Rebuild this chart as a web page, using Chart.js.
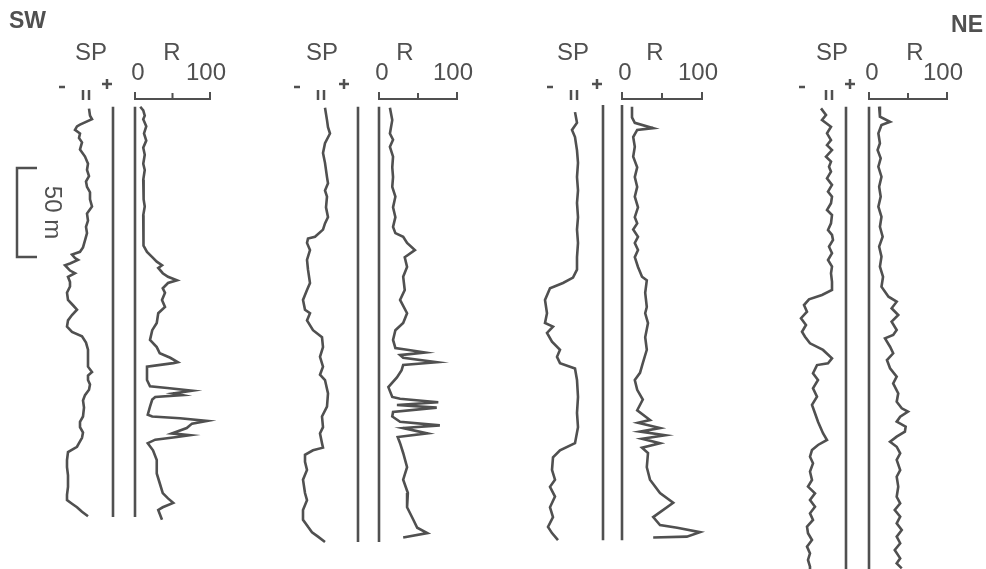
<!DOCTYPE html>
<html>
<head>
<meta charset="utf-8">
<title>SP / R logs SW - NE</title>
<script src="https://cdn.jsdelivr.net/npm/chart.js@4.4.1/dist/chart.umd.min.js"></script>
<style>
  html, body { margin: 0; padding: 0; background: #fff; }
  #wrap { position: relative; width: 986px; height: 569px; overflow: hidden; }
  #wrap canvas { position: absolute; top: 0; }
</style>
</head>
<body>
<div id="wrap">
  <canvas id="well1" width="253" height="569"></canvas>
  <canvas id="well2" width="253" height="569"></canvas>
  <canvas id="well3" width="253" height="569"></canvas>
  <canvas id="well4" width="253" height="569"></canvas>
</div>
<script>
const well1SP = [[2,-24],[6,-23],[8,-21],[11,-33],[12,-36],[14,-38],[16,-33],[18.5,-34],[21,-31],[25,-33],[29,-28],[33,-25],[36.5,-26],[40,-24],[43,-27],[46,-26],[49,-23],[53,-23],[57,-21],[61,-26],[65,-25],[68.5,-27],[72,-26],[76,-28],[80,-30],[82.5,-33],[84,-41],[86,-38],[87,-35],[89,-43],[90,-48],[93,-43],[94.5,-38],[96.5,-45],[99.5,-43],[102,-43],[105.5,-46],[109.5,-45],[112.5,-40],[115,-36],[118,-41],[121,-45],[124.5,-46],[127.5,-41],[130,-31],[133.5,-27],[137.5,-25],[142,-25],[147,-25],[150,-21],[152,-25],[154.5,-25],[157,-23],[160,-24],[163,-28],[166,-30],[170,-29],[175,-30],[178,-33],[181,-33],[184,-30],[187,-31],[190,-34],[192,-36],[195,-45],[199.5,-46],[203.5,-46],[208,-45],[214.5,-45],[219,-46],[222,-46],[224,-41],[226,-36],[228.5,-31],[231,-25]];
const well1R = [[1,7],[3,11],[6,13],[8,11],[12,15],[16,12],[20,15],[24,11],[28,13],[33,11],[36.5,13],[42,11],[48,12],[53,11],[57,13],[62,11],[67.5,12],[73,11],[79,11],[82.5,16],[85.5,23],[88,29],[90,36],[91.5,31],[94.5,37],[96.5,44],[98.5,56],[100,44],[103,37],[105.5,40],[109.5,36],[113.5,40],[117,31],[122.5,29],[126.5,23],[132,20],[136,29],[139.5,33],[142,47],[144.5,57],[145,51],[147,16],[154.5,16],[158,20],[159,43],[160.5,76],[162,51],[163,63],[164,27],[165.5,23],[169.5,20],[174,17],[175,23],[176,60],[177.5,96],[179,76],[181.5,69],[184.5,49],[185.5,73],[186.5,56],[188,27],[190,17],[194,24],[199.5,29],[207,29],[212.5,33],[218,37],[221,44],[223.5,51],[226,37],[227.5,31],[233,36]];

const well2SP = [[1.5,-33],[8.5,-31],[12.5,-30],[16,-28],[21.5,-33],[27,-35],[32.5,-33],[40.5,-31],[44,-30],[48,-33],[51.5,-31],[57.5,-32],[63,-30],[66.5,-33],[70,-35],[74,-43],[75,-50],[77.5,-51],[81.5,-48],[87,-51],[92.5,-50],[100,-48],[104,-51],[109.5,-55],[115,-53],[117,-48],[121,-51],[126.5,-45],[130.5,-36],[136,-35],[141.5,-38],[147,-35],[151.5,-38],[154.5,-33],[162,-30],[169.5,-31],[175,-36],[181,-35],[184.5,-38],[190,-36],[192.5,-35],[194,-45],[196.5,-53],[200.5,-53],[205,-51],[210.5,-55],[218,-53],[222,-51],[227.5,-55],[233,-55],[237,-50],[240,-46],[242.5,-40],[245.5,-33]];
const well2R = [[1.5,14],[8.5,17],[16,14],[19.5,18],[23.5,14],[29,18],[35,17],[40.5,18],[46,17],[51.5,21],[57.5,18],[63,21],[68.5,18],[72,21],[74,31],[77.5,36],[81.5,46],[85.5,33],[91,36],[96.5,31],[104,33],[109.5,27],[117,36],[122.5,31],[126.5,21],[132,18],[136.5,21],[137.5,36],[139,59],[140.5,27],[142,31],[144.5,74],[146,31],[149,29],[153,23],[158.5,12],[164,17],[165,27],[167,76],[168.5,23],[170,74],[172.5,18],[175,17],[178,27],[180,78],[181.5,31],[184.5,62],[186.5,24],[190,27],[195.5,31],[203.5,36],[210.5,31],[218,37],[226,36],[233,44],[237.5,49],[240.5,62],[243,31]];

const well3SP = [[4,-28],[10,-26],[14,-31],[18,-28],[25.5,-26],[32.5,-25],[40.5,-26],[48,-25],[55,-26],[63,-25],[70,-26],[77.5,-25],[85.5,-26],[92.5,-26],[97,-30],[100,-40],[103,-53],[109.5,-58],[117,-56],[122.5,-58],[124.5,-50],[128,-56],[133,-51],[137.5,-43],[141.5,-46],[145,-43],[148,-28],[154.5,-26],[164,-25],[173,-26],[181,-25],[190,-28],[194,-43],[198,-50],[205,-51],[210.5,-48],[214.5,-53],[220,-48],[226,-53],[231.5,-50],[237,-55],[240.5,-51],[244.5,-45]];
const well3R = [[1,12.5],[7,12.5],[10,16],[13,39],[14,19],[18,14],[23.5,16],[29,14],[35,19],[40.5,16],[46,19],[51.5,16],[57.5,20],[63,16],[66.5,19],[70,14],[74,20],[77.5,16],[81.5,20],[85.5,16],[91,20],[96.5,25],[98.5,31],[105.5,29],[113.5,31],[117,29],[122.5,32.5],[130.5,29],[137.5,31],[145,26],[150.5,22.5],[154.5,16],[160,19],[165.5,26],[171.5,19],[177,35],[178.5,20],[181.5,47.5],[183.5,22.5],[185.5,54],[187.5,25],[190,47.5],[192.5,25],[195.5,32.5],[203.5,31],[210.5,35],[218,47.5],[223.5,64],[231.5,39],[236,47.5],[237.5,69],[240,97.5],[242.5,81],[243,39]];

const well4SP = [[1.9,-25],[5.6,-20],[8.4,-24],[12.2,-15],[15.9,-19],[19.7,-15],[22.5,-19],[25.3,-14],[29,-20],[31.8,-15],[34.7,-17],[37.5,-15],[41.2,-19],[44.9,-14],[48.7,-18],[51.5,-14],[55.2,-15],[59,-19],[61.8,-14],[66.5,-15],[70.2,-18],[73,-14],[75.8,-13],[79.6,-17],[83.3,-14],[87.1,-18],[90.8,-14],[94.6,-15],[99.3,-14],[103.9,-14],[106.7,-24],[109.2,-37],[112.4,-42],[116.1,-39],[119.8,-45],[123.6,-40],[127.4,-44],[130.2,-41],[133.9,-36],[137.6,-23],[142.3,-14],[145.1,-18],[146.1,-29],[150.7,-33],[154.5,-28],[159.2,-33],[163.9,-29],[168.5,-34],[173.2,-31],[177.9,-28],[184.4,-23],[188.2,-19],[191,-28],[193.8,-34],[197.6,-36],[201.3,-33],[206,-36],[210.7,-34],[214.4,-38],[218.2,-31],[221.9,-36],[225.7,-31],[229.4,-36],[233.1,-33],[236.9,-39],[240.6,-38],[244.4,-34],[248.1,-39],[251.9,-36],[255.6,-38],[259.4,-36],[261,-36]];
const well4R = [[0.9,13],[6.6,14],[9.4,27],[11.2,16],[15.9,12],[21.5,14],[25.3,11],[29.9,15],[34.7,12],[40.3,16],[45.9,13],[51.5,15],[57.1,12],[62.8,16],[68.4,14],[74,17.5],[79.6,13],[85.2,16],[90.8,14],[96.5,18],[102.1,16],[107.7,25],[110.5,35.5],[114.2,29],[118,37.5],[121.7,29],[126.4,35.5],[129.2,31],[131.1,20.5],[135.8,27],[139.5,31],[143.3,23],[147.9,27],[152.6,35.5],[156.4,31],[162,37.5],[166.7,35.5],[170.4,42],[172.3,50],[175.1,40],[177.9,35.5],[180.7,47],[183.5,46],[186.3,35.5],[189.2,27],[192,35.5],[195.7,40],[199.4,35.5],[205.1,40],[208.8,35.5],[214.4,37.5],[220.1,35.5],[223.8,40],[227.5,33],[231.3,40],[235,35.5],[238.8,42],[242.5,35.5],[246.2,40],[250,33],[254.7,40],[257.5,35.5],[260.3,42]];

const wellTop = [1, 1, 0, 1];
const wellBase = [231.5, 245.5, 244.5, 262];
const rTicks = [0, 50, 100];
const sideLabels = ['SW', 'NE'];
const scaleBarTop = 35.4;
const scaleBarLength = 50;

// layout (page pixels)
const CANVAS_W = 253;
const SP_IN_CANVAS = 113;
const PLOT_TOP = 105;
const PX_PER_M = 1.78;
const INK = '#505050';
const FONT = '"Liberation Sans", Arial, sans-serif';

const wells = [
    { spX: 113, rZero: 135, r100: 210, head: { sp: -22, dash: -51, bars: -27, plus: -6, r: 37 } },
    { spX: 358, rZero: 379, r100: 457, head: { sp: -36, dash: -61, bars: -37, plus: -14, r: 26 } },
    { spX: 603, rZero: 622, r100: 702, head: { sp: -30, dash: -53, bars: -29, plus: -6, r: 33 } },
    { spX: 846, rZero: 869, r100: 947, head: { sp: -14, dash: -44, bars: -17, plus: 4, r: 46 } }
];

function headerPlugin(i) {
    const w = wells[i];
    return {
        id: 'header' + i,
        afterDraw(chart) {
            const { ctx, scales } = chart;
            const sp = scales.xSp.getPixelForValue(0);
            const r0 = scales.xRes.getPixelForValue(rTicks[0]);
            const rMid = scales.xRes.getPixelForValue(rTicks[1]);
            const r100 = scales.xRes.getPixelForValue(rTicks[2]);
            ctx.save();
            ctx.fillStyle = INK;
            ctx.strokeStyle = INK;
            ctx.font = '24px ' + FONT;
            ctx.textAlign = 'center';
            ctx.textBaseline = 'alphabetic';
            ctx.fillText('SP', sp + w.head.sp, 60);
            ctx.fillText('R', r0 + w.head.r, 60);
            ctx.fillText(String(rTicks[0]), r0 + 3, 80);
            ctx.fillText(String(rTicks[2]), r100 - 4, 80);

            ctx.lineWidth = 2;
            ctx.beginPath();
            ctx.moveTo(r0, 92); ctx.lineTo(r0, 99); ctx.lineTo(r100, 99); ctx.lineTo(r100, 92);
            ctx.moveTo(rMid, 93); ctx.lineTo(rMid, 99);
            ctx.stroke();

            ctx.lineWidth = 2.5;
            const d = sp + w.head.dash, b = sp + w.head.bars, p = sp + w.head.plus;
            ctx.beginPath();
            ctx.moveTo(d - 3, 87); ctx.lineTo(d + 3, 87);
            ctx.moveTo(b - 3, 90); ctx.lineTo(b - 3, 100);
            ctx.moveTo(b + 3, 90); ctx.lineTo(b + 3, 100);
            ctx.moveTo(p - 5, 84); ctx.lineTo(p + 5, 84);
            ctx.moveTo(p, 79); ctx.lineTo(p, 89);
            ctx.stroke();

            if (i === 0) {
                const yTop = scales.y.getPixelForValue(scaleBarTop);
                const yBot = scales.y.getPixelForValue(scaleBarTop + scaleBarLength);
                ctx.lineWidth = 2.5;
                ctx.beginPath();
                ctx.moveTo(37, yTop); ctx.lineTo(17, yTop); ctx.lineTo(17, yBot); ctx.lineTo(37, yBot);
                ctx.stroke();
                ctx.save();
                ctx.translate(52, (yTop + yBot) / 2);
                ctx.rotate(Math.PI / 2);
                ctx.textBaseline = 'middle';
                ctx.fillText(scaleBarLength + ' m', 0, 0);
                ctx.restore();
                ctx.font = 'bold 23px ' + FONT;
                ctx.textAlign = 'left';
                ctx.fillText(sideLabels[0], 9, 28);
            }
            if (i === 3) {
                ctx.font = 'bold 23px ' + FONT;
                ctx.textAlign = 'right';
                ctx.fillText(sideLabels[1], 983 - (w.spX - SP_IN_CANVAS), 32);
            }
            ctx.restore();
        }
    };
}

function makeWell(i, spCurve, rCurve) {
    const w = wells[i];
    const left = w.spX - SP_IN_CANVAS;
    const el = document.getElementById('well' + (i + 1));
    el.style.left = left + 'px';
    const rPx = (w.r100 - w.rZero) / 100;
    const rZeroIn = w.rZero - left;
    const toXY = pts => pts.map(p => ({ x: p[1], y: p[0] }));
    const curve = { showLine: true, pointRadius: 0, borderColor: INK, borderWidth: 2.6, tension: 0, fill: false };
    const base = { showLine: true, pointRadius: 0, borderColor: INK, borderWidth: 2.6, fill: false };

    return new Chart(el, {
        type: 'scatter',
        data: {
            datasets: [
                { ...curve, data: toXY(spCurve), xAxisID: 'xSp' },
                { ...curve, data: toXY(rCurve), xAxisID: 'xRes' },
                { ...base, data: [{ x: 0, y: wellTop[i] }, { x: 0, y: wellBase[i] }], xAxisID: 'xSp' },
                { ...base, data: [{ x: 0, y: wellTop[i] }, { x: 0, y: wellBase[i] }], xAxisID: 'xRes' }
            ]
        },
        options: {
            responsive: false,
            animation: false,
            devicePixelRatio: 1,
            events: [],
            layout: { padding: { top: PLOT_TOP, left: 0, right: 0, bottom: 0 } },
            plugins: { legend: { display: false }, tooltip: { enabled: false } },
            scales: {
                xSp: { type: 'linear', axis: 'x', display: false, min: -SP_IN_CANVAS, max: CANVAS_W - SP_IN_CANVAS },
                xRes: { type: 'linear', axis: 'x', display: false, min: -rZeroIn / rPx, max: (CANVAS_W - rZeroIn) / rPx },
                y: { type: 'linear', display: false, reverse: true, min: 0, max: (569 - PLOT_TOP) / PX_PER_M }
            }
        },
        plugins: [headerPlugin(i)]
    });
}

makeWell(0, well1SP, well1R);
makeWell(1, well2SP, well2R);
makeWell(2, well3SP, well3R);
makeWell(3, well4SP, well4R);
</script>
</body>
</html>
